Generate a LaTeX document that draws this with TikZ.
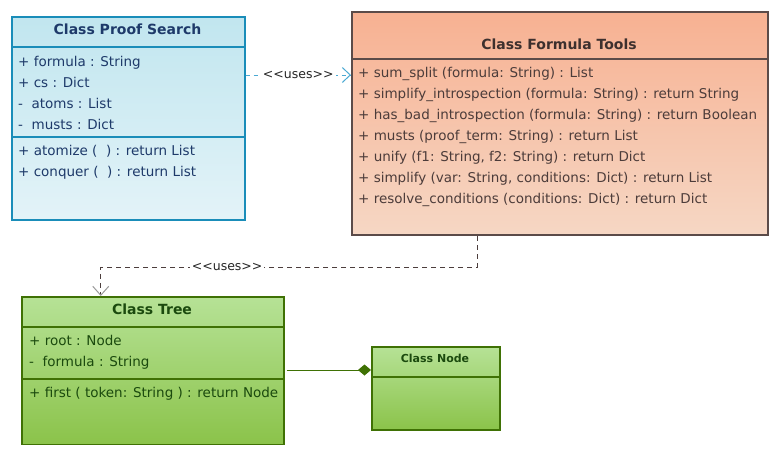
\documentclass[tikz,border=0pt]{standalone}
\usepackage{fontspec}
\setmainfont{DejaVu Sans}
\usepackage{tikz}
\usetikzlibrary{arrows.meta,positioning}
\definecolor{psfilltop}{RGB}{193,230,239}
\definecolor{psfillbot}{RGB}{227,243,248}
\definecolor{psline}{RGB}{26,141,185}
\definecolor{psink}{RGB}{30,58,106}
\definecolor{ftfilltop}{RGB}{247,177,146}
\definecolor{ftfillbot}{RGB}{246,215,196}
\definecolor{ftline}{RGB}{91,75,73}
\definecolor{ftink}{RGB}{76,60,58}
\definecolor{trfilltop}{RGB}{182,226,150}
\definecolor{trfillbot}{RGB}{139,195,74}
\definecolor{trline}{RGB}{63,113,4}
\definecolor{trink}{RGB}{27,74,14}
\definecolor{useblue}{RGB}{75,169,211}
\definecolor{usegrey}{RGB}{76,62,61}
\newcommand{\usestag}{\textless\kern0pt\textless uses\textgreater\kern0pt\textgreater}

\begin{document}
\begin{tikzpicture}[x=1pt, y=-1pt,
    classbox/.style={draw, line width=1.5pt, anchor=north west, inner sep=0pt},
    member/.style={anchor=base west, inner sep=0pt, font=\fontsize{13.5}{16}\selectfont},
    classtitle/.style={anchor=base, inner sep=0pt, font=\bfseries\fontsize{14}{17}\selectfont},
    uses/.style={fill=white, inner sep=2pt, text=black!85, font=\fontsize{12.5}{15}\selectfont}]
        \useasboundingbox (0,0) rectangle (784,475);
        % class proof search
        \node[classbox, draw=psline, top color=psfilltop, bottom color=psfillbot, minimum width=233pt, minimum height=203pt] (ps) at (11,16) {};
        \draw[psline, line width=1.5pt] ([yshift=-31pt]ps.north west) -- ([yshift=-31pt]ps.north east);
        \draw[psline, line width=1.5pt] ([yshift=-121pt]ps.north west) -- ([yshift=-121pt]ps.north east);
        \node[classtitle, text=psink] (pst) at (127.5,34) {Class Proof Search};
        \node[member, text=psink] (psa) at (18,66) {+ formula : String};
        \node[member, text=psink] (psb) at (18,87) {+ cs : Dict};
        \node[member, text=psink] (psc) at (18,108) {-~ atoms : List};
        \node[member, text=psink] (psd) at (18,129) {-~ musts : Dict};
        \node[member, text=psink] (pse) at (18,155) {+ atomize (~ ) : return List};
        \node[member, text=psink] (psf) at (18,176) {+ conquer (~ ) : return List};
        % class formula tools
        \node[classbox, line width=2pt, draw=ftline, top color=ftfilltop, bottom color=ftfillbot, minimum width=416pt, minimum height=223pt] (ft) at (351,11) {};
        \draw[ftline, line width=2pt] ([yshift=-48pt]ft.north west) -- ([yshift=-48pt]ft.north east);
        \node[classtitle, text=ftink!80!black] (ftt) at (559,49) {Class Formula Tools};
        \node[member, text=ftink] (fta) at (358,77) {+ sum\_split (formula: String) : List};
        \node[member, text=ftink] (ftb) at (358,98) {+ simplify\_introspection (formula: String) : return String};
        \node[member, text=ftink] (ftc) at (358,119) {+ has\_bad\_introspection (formula: String) : return Boolean};
        \node[member, text=ftink] (ftd) at (358,140) {+ musts (proof\_term: String) : return List};
        \node[member, text=ftink] (fte) at (358,161) {+ unify (f1: String, f2: String) : return Dict};
        \node[member, text=ftink] (ftf) at (358,182) {+ simplify (var: String, conditions: Dict) : return List};
        \node[member, text=ftink] (ftg) at (358,203) {+ resolve\_conditions (conditions: Dict) : return Dict};
        % class tree
        \node[classbox, draw=trline, top color=trfilltop, bottom color=trfillbot, minimum width=262pt, minimum height=147.5pt] (tree) at (21,296) {};
        \draw[trline, line width=1.5pt] ([yshift=-31pt]tree.north west) -- ([yshift=-31pt]tree.north east);
        \draw[trline, line width=1.5pt] ([yshift=-83pt]tree.north west) -- ([yshift=-83pt]tree.north east);
        \node[classtitle, text=trink] (treet) at (152,314) {Class Tree};
        \node[member, text=trink] (treea) at (29,345) {+ root : Node};
        \node[member, text=trink] (treeb) at (29,366) {-~ formula : String};
        \node[member, text=trink] (treec) at (29,397) {+ first ( token: String ) : return Node};
        % class node
        \node[classbox, draw=trline, top color=trfilltop, bottom color=trfillbot, minimum width=128pt, minimum height=83pt] (nd) at (371,346) {};
        \draw[trline, line width=1.5pt] ([yshift=-31pt]nd.north west) -- ([yshift=-31pt]nd.north east);
        \node[classtitle, text=trink, font=\bfseries\fontsize{11}{13}\selectfont] (ndt) at (435,362) {Class Node};
        % relations
        \draw[useblue, line width=1pt, dash pattern=on 4pt off 4pt, -{Straight Barb[length=8pt, width=15pt]}]
            ([yshift=-59pt]ps.north east) -- node[uses] {\usestag} ([yshift=-64pt]ft.north west);
        \draw[usegrey, line width=1pt, dash pattern=on 5pt off 4pt, -{Straight Barb[length=9pt, width=16pt, color=black!40]}]
            ([xshift=-83pt]ft.south) -- ++(0,31) -| node[uses, pos=0.332] {\usestag} ([xshift=-52pt]tree.north);
        \draw[trline, line width=1pt, -{Diamond[length=13pt, width=11pt]}]
            ([yshift=-74pt, xshift=2pt]tree.north east) -- ([yshift=-24pt]nd.north west);
\end{tikzpicture}
\end{document}
